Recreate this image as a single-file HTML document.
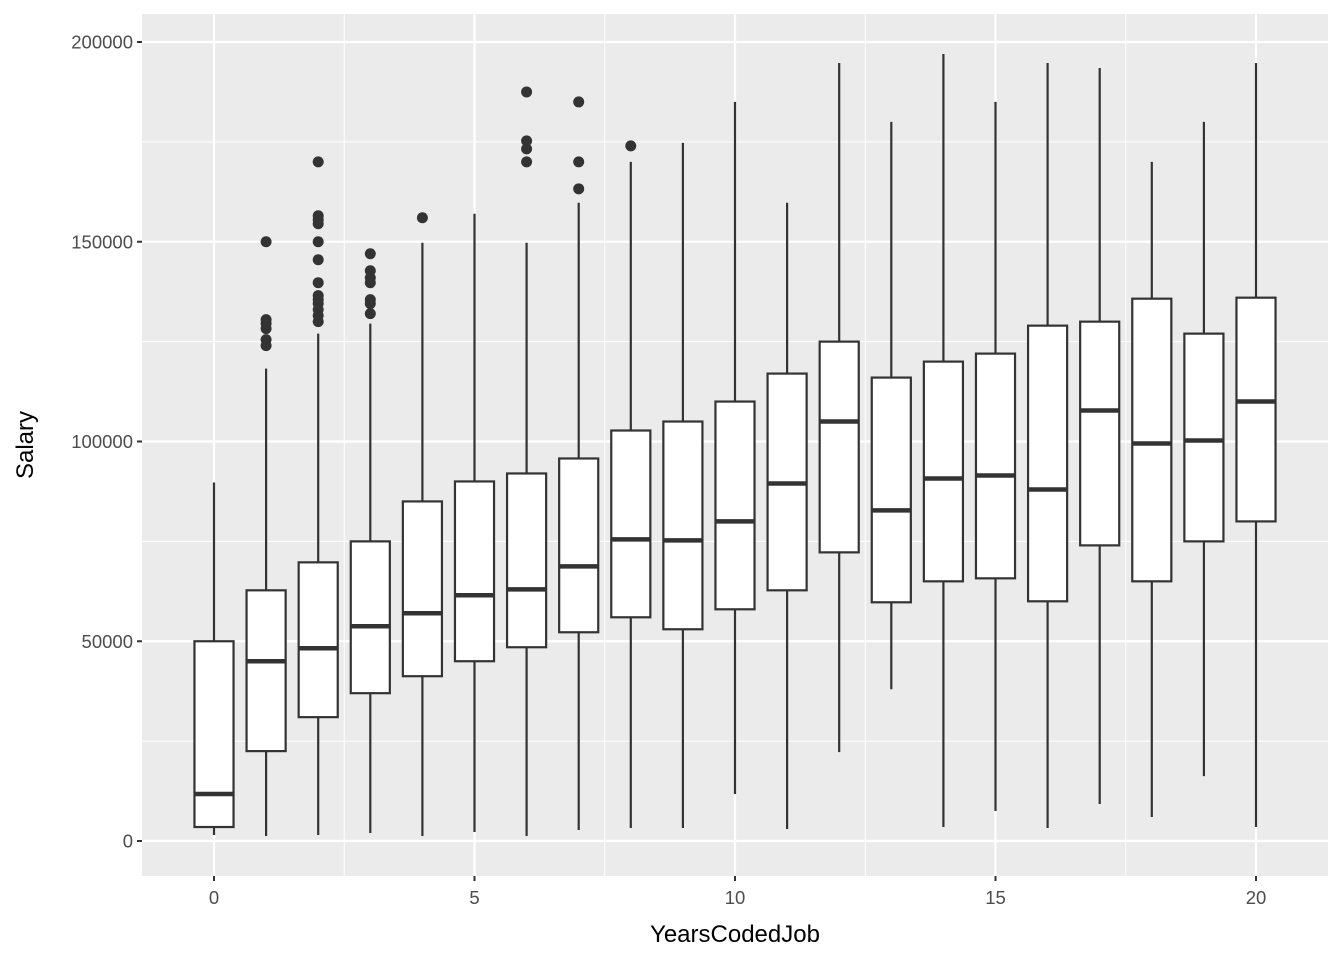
<!DOCTYPE html>
<html><head><meta charset="utf-8"><style>
body{margin:0;background:#fff}
svg text{font-family:"Liberation Sans",Arial,sans-serif}
</style></head><body>
<svg id="chart" width="1344" height="960" xmlns="http://www.w3.org/2000/svg"></svg>
<script>
const years = [0,1,2,3,4,5,6,7,8,9,10,11,12,13,14,15,16,17,18,19,20];
const whiskerLow = [1500,1250,1500,2000,1250,2250,1250,2750,3250,3250,11750,3000,22250,38000,3500,7500,3250,9250,6000,16250,3500];
const q1 = [3500,22500,31000,37000,41250,45000,48500,52250,56000,53000,58000,62750,72250,59750,65000,65750,60000,74000,65000,75000,80000];
const median = [11750,45000,48250,53750,57000,61500,63000,68750,75500,75250,80000,89500,105000,82750,90750,91500,88000,107750,99500,100250,110000];
const q3 = [50000,62750,69750,75000,85000,90000,92000,95750,102750,105000,110000,117000,125000,116000,120000,122000,129000,130000,135750,127000,136000];
const whiskerHigh = [89750,118250,127000,129500,149750,157000,149750,159750,170000,174750,185000,159750,194750,180000,197000,185000,194750,193500,170000,180000,194750];
const outliers = [[],[150000,130500,129500,128250,125500,124000],
 [170000,156500,155500,154500,150000,145500,139750,136500,135500,134500,133000,131500,130000],
 [147000,142750,141000,139750,135500,134500,132000],[156000],[],
 [187500,175250,173250,170000],[185000,170000,163250],[174000],[],[],[],[],[],[],[],[],[],[],[],[]];
const xTicks = [0,5,10,15,20];
const yTicks = [0,50000,100000,150000,200000];

const NS="http://www.w3.org/2000/svg";
const svg=document.getElementById('chart');
const L=142,R=1328,T=14,B=876;
const xs=v=>214+(v-0)*(1256-214)/20;
const ys=v=>841-v*(841-42)/200000;
function el(t,a,p){const e=document.createElementNS(NS,t);for(const k in a)e.setAttribute(k,a[k]);(p||svg).appendChild(e);return e;}
const panel=el('rect',{x:L,y:T,width:R-L,height:B-T,fill:'#EBEBEB'});


const grid=el('g',{});


for(let i=0;i<yTicks.length-1;i++){const m=(yTicks[i]+yTicks[i+1])/2;el('line',{x1:L,x2:R,y1:ys(m),y2:ys(m),stroke:'#fff','stroke-width':1},grid);}
for(let i=0;i<xTicks.length-1;i++){const m=(xTicks[i]+xTicks[i+1])/2;el('line',{y1:T,y2:B,x1:xs(m),x2:xs(m),stroke:'#fff','stroke-width':1},grid);}
yTicks.forEach(v=>el('line',{x1:L,x2:R,y1:ys(v),y2:ys(v),stroke:'#fff','stroke-width':2.2},grid));
xTicks.forEach(v=>el('line',{y1:T,y2:B,x1:xs(v),x2:xs(v),stroke:'#fff','stroke-width':2.2},grid));
const hw=0.375*(1256-214)/20;
years.forEach((yr,i)=>{
  const g=el('g',{});
  
  
  const x=xs(yr);
  el('line',{x1:x,x2:x,y1:ys(whiskerLow[i]),y2:ys(q1[i]),stroke:'#333','stroke-width':2.2},g);
  el('line',{x1:x,x2:x,y1:ys(q3[i]),y2:ys(whiskerHigh[i]),stroke:'#333','stroke-width':2.2},g);
  el('rect',{x:x-hw,y:ys(q3[i]),width:2*hw,height:ys(q1[i])-ys(q3[i]),fill:'#fff',stroke:'#333','stroke-width':2.2},g);
  el('line',{x1:x-hw,x2:x+hw,y1:ys(median[i]),y2:ys(median[i]),stroke:'#333','stroke-width':4.5},g);
  outliers[i].forEach(o=>el('circle',{cx:x,cy:ys(o),r:5.5,fill:'#333'},g));
});
const ax=el('g',{fill:'#4D4D4D','font-size':18.5});


yTicks.forEach(v=>{el('line',{x1:L-5,x2:L,y1:ys(v),y2:ys(v),stroke:'#333','stroke-width':2},ax);const t=el('text',{x:L-9,y:ys(v)+6.5,'text-anchor':'end'},ax);t.textContent=v;});
xTicks.forEach(v=>{el('line',{x1:xs(v),x2:xs(v),y1:B,y2:B+5,stroke:'#333','stroke-width':2},ax);const t=el('text',{x:xs(v),y:B+28,'text-anchor':'middle'},ax);t.textContent=v;});
const xt=el('text',{x:(L+R)/2,y:942,'text-anchor':'middle','font-size':24,fill:'#000'});
xt.textContent='YearsCodedJob';


const yt=el('text',{x:0,y:0,'text-anchor':'middle','font-size':24,fill:'#000',transform:'translate(33,445) rotate(-90)'});
yt.textContent='Salary';


</script>
</body></html>
